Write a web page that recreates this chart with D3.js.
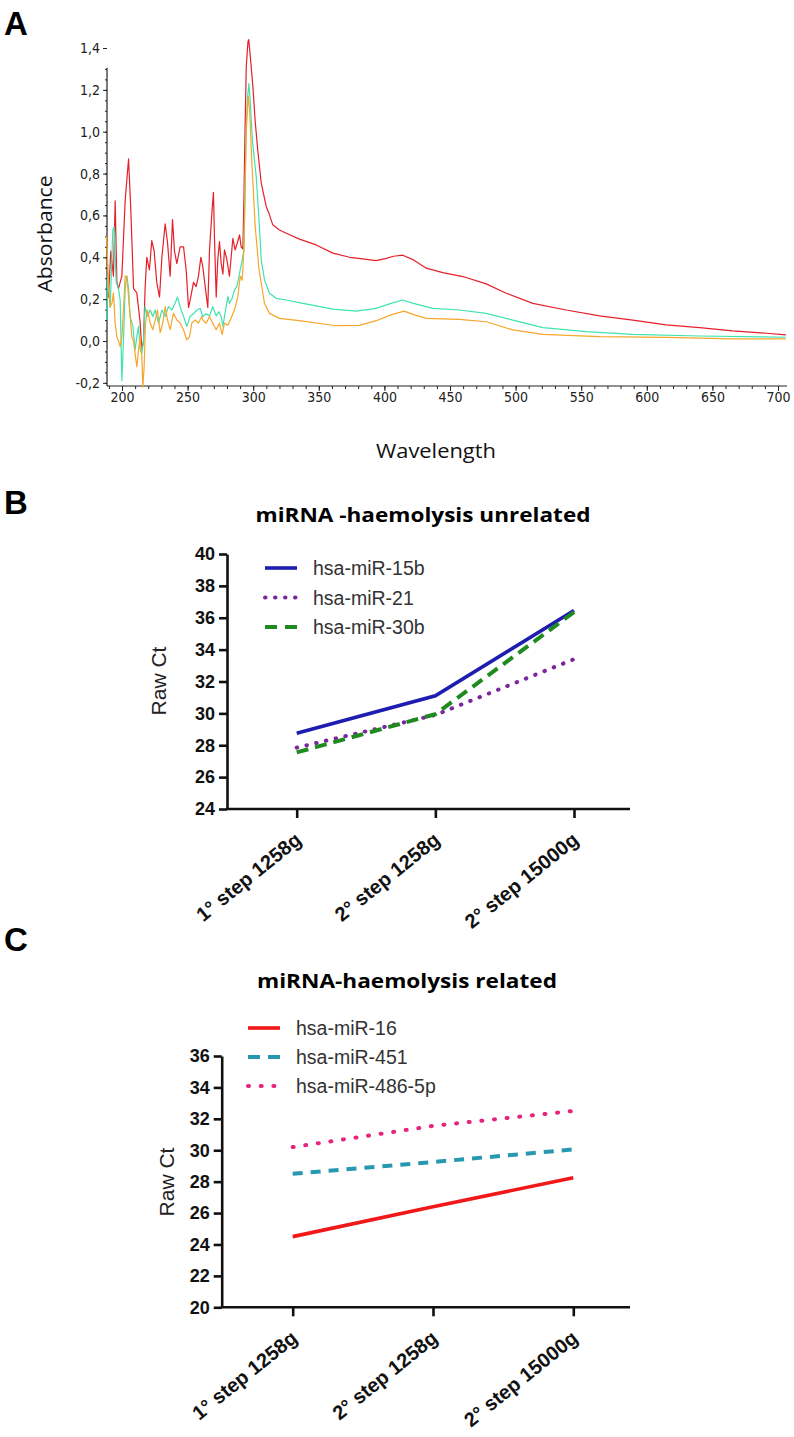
<!DOCTYPE html>
<html>
<head>
<meta charset="utf-8">
<script src="https://cdn.jsdelivr.net/npm/d3@7"></script>
<style>
  body { margin: 0; background: #fff; }
</style>
</head>
<body>
<script>
// ---- panel A : absorbance spectra [wavelength, absorbance] ----
const redSpectrum = [[188.5,0.27],[189.7,0.21],[191.5,0.43],[193.5,0.31],[194.8,0.67],[196.1,0.28],[197.3,0.25],[199.9,0.31],[202.4,0.67],[205.0,0.87],[206.7,0.63],[208.8,0.25],[211.3,0.23],[213.8,0.09],[215.1,-0.04],[216.4,0.0],[217.6,0.25],[218.9,0.40],[220.9,0.34],[222.7,0.48],[224.5,0.43],[226.5,0.28],[228.6,0.21],[230.4,0.40],[232.9,0.56],[234.7,0.47],[236.7,0.31],[238.5,0.58],[240.0,0.43],[241.8,0.37],[244.3,0.45],[246.9,0.45],[248.9,0.34],[250.7,0.16],[252.4,0.21],[254.5,0.28],[256.5,0.26],[258.3,0.31],[260.1,0.40],[261.6,0.355],[263.6,0.25],[265.4,0.16],[266.7,0.435],[268.7,0.63],[269.7,0.71],[270.5,0.49],[271.8,0.21],[273.0,0.39],[274.3,0.475],[275.6,0.37],[276.9,0.32],[278.1,0.435],[279.9,0.39],[281.9,0.31],[283.2,0.40],[284.5,0.49],[286.2,0.435],[287.8,0.467],[289.6,0.507],[290.8,0.45],[292.1,0.44],[293.0,0.70],[293.6,0.95],[294.7,1.31],[296.0,1.43],[296.6,1.44],[297.5,1.38],[299.7,1.22],[301.5,1.05],[303.5,0.91],[306.1,0.755],[309.9,0.643],[312.0,0.61],[314.9,0.555],[320.0,0.53],[325.2,0.515],[335.3,0.487],[348,0.459],[360.7,0.42],[373.4,0.40],[383.5,0.392],[393.7,0.384],[401.4,0.395],[407,0.405],[414,0.41],[421.7,0.389],[431.9,0.348],[444.5,0.327],[459.8,0.308],[477.6,0.273],[492.8,0.228],[513.1,0.18],[538.6,0.148],[564,0.12],[589.3,0.10],[614.8,0.077],[640.2,0.064],[665.5,0.048],[691,0.037],[706,0.029]];

const cyanSpectrum = [[188.5,0.10],[189.0,0.31],[191.0,0.16],[193.0,0.53],[194.0,0.545],[195.6,0.28],[197.3,0.25],[198.6,0.196],[199.9,-0.19],[201.1,0.0],[202.4,0.25],[203.7,0.31],[205.0,0.25],[206.2,0.117],[208.3,0.07],[210.0,-0.043],[211.3,0.02],[212.6,0.07],[213.8,-0.04],[215.1,-0.06],[216.4,0.0],[217.6,0.164],[219.4,0.117],[221.5,0.148],[223.5,0.117],[225.3,0.148],[227.8,0.085],[230.4,0.148],[232.9,0.117],[235.4,0.164],[238.0,0.148],[240.5,0.18],[242.3,0.21],[244.3,0.164],[246.9,0.117],[249.4,0.07],[251.9,0.117],[254.5,0.13],[257.0,0.148],[259.6,0.155],[261.6,0.117],[264.2,0.13],[266.7,0.12],[269.2,0.164],[271.8,0.12],[273.8,0.14],[275.6,0.117],[276.9,0.07],[278.9,0.148],[280.7,0.212],[281.9,0.18],[284.0,0.204],[285.7,0.244],[287.5,0.26],[289.6,0.324],[291.6,0.388],[292.9,0.435],[293.8,0.70],[294.4,0.945],[295.5,1.15],[296.7,1.23],[297.7,1.15],[299.5,0.95],[302.3,0.786],[304.3,0.595],[306.1,0.388],[308.6,0.292],[312.4,0.228],[317.5,0.204],[325.2,0.196],[335,0.183],[360.7,0.152],[378.5,0.143],[393.7,0.156],[405,0.18],[414,0.196],[422,0.18],[437,0.156],[457,0.148],[477.6,0.132],[497.9,0.10],[520.8,0.064],[553.8,0.045],[589.3,0.032],[640,0.024],[706,0.018]];

const orangeSpectrum = [[188.3,0.50],[189.7,0.276],[191.0,0.164],[192.3,0.18],[193.5,0.23],[194.8,0.086],[196.1,0.02],[197.3,0.0],[198.6,-0.027],[199.9,0.02],[201.1,0.148],[202.4,0.31],[203.7,0.31],[205.0,0.21],[206.2,0.117],[207.5,0.02],[208.8,0.0],[210.0,-0.06],[211.3,-0.123],[212.6,-0.043],[213.8,0.02],[215.1,-0.075],[215.9,-0.22],[216.9,-0.12],[217.9,0.086],[219.4,0.148],[221.5,0.086],[223.5,0.054],[225.3,0.10],[227.0,0.148],[229.1,0.04],[231.1,0.086],[232.9,0.164],[234.7,0.10],[236.7,0.054],[239.2,0.133],[241.8,0.10],[244.3,0.086],[246.9,0.054],[249.4,0.005],[251.4,0.02],[253.2,0.086],[255.8,0.10],[258.3,0.086],[260.8,0.117],[261.6,0.10],[264.2,0.085],[266.7,0.117],[269.2,0.085],[271.8,0.054],[274.3,0.085],[276.3,0.03],[278.1,0.085],[280.7,0.075],[283.2,0.11],[285.7,0.148],[288.3,0.212],[290.1,0.31],[291.6,0.29],[292.9,0.435],[293.8,0.75],[295.0,1.05],[296.2,1.17],[297.3,1.10],[299.0,0.85],[301.5,0.55],[304.3,0.35],[306.1,0.276],[308.6,0.18],[312.4,0.132],[320,0.108],[335,0.097],[363,0.073],[381,0.075],[393.7,0.097],[405,0.125],[415,0.143],[423,0.125],[432,0.108],[457,0.103],[477.6,0.092],[497.9,0.053],[520.8,0.032],[564,0.021],[615,0.017],[665,0.01],[706,0.01]];

const xTicksA = [200, 250, 300, 350, 400, 450, 500, 550, 600, 650, 700];
const yTicksA = [-0.2, 0, 0.2, 0.4, 0.6, 0.8, 1.0, 1.2, 1.4];

// ---- panels B and C : raw Ct ----
const steps = ["1° step 1258g", "2° step 1258g", "2° step 15000g"];

const unrelatedNames = ["hsa-miR-15b", "hsa-miR-21", "hsa-miR-30b"];
const miR15b = [28.75, 31.1, 36.45];
const miR21 = [27.85, 29.9, 33.4];
const miR30b = [27.55, 29.95, 36.35];
const ctTicksB = [24, 26, 28, 30, 32, 34, 36, 38, 40];

const relatedNames = ["hsa-miR-16", "hsa-miR-451", "hsa-miR-486-5p"];
const miR16 = [24.5, 26.4, 28.25];
const miR451 = [28.5, 29.25, 30.05];
const miR486 = [30.2, 31.55, 32.5];
const ctTicksC = [20, 22, 24, 26, 28, 30, 32, 34, 36];

const svg = d3.select("body").append("svg")
    .attr("width", 794)
    .attr("height", 1437)
    .style("font-family", "'Liberation Sans', Arial, sans-serif");

const narrow = "'Liberation Sans Narrow','DejaVu Sans Condensed',sans-serif";
const calibri = "'Open Sans', 'Liberation Sans', sans-serif";
const comma = d => d3.format(".1f")(d).replace(".", ",").replace("\u2212", "-");

// panel letters
[["A", 35], ["B", 514], ["C", 951]].forEach(([t, y]) => {
    svg.append("text").attr("x", 4).attr("y", y)
        .attr("font-size", 33).attr("font-weight", "bold").text(t);
});

// ================= panel A =================
const xA = d3.scaleLinear().domain([200, 700]).range([122, 778]);
const yA = d3.scaleLinear().domain([0, 1.4]).range([341, 48]);
const gA = svg.append("g");

function styleSpecAxis(g) {
    g.select(".domain").remove();
    g.selectAll(".tick line").attr("stroke", "#222");
    g.selectAll("text")
        .attr("font-family", narrow)
        .attr("font-stretch", "condensed")
        .attr("font-size", 14)
        .attr("fill", "#222");
}

gA.append("g").attr("transform", "translate(0,386)")
    .call(d3.axisBottom(xA).tickValues(d3.range(190, 701, 10)).tickSize(3).tickFormat(""))
    .call(styleSpecAxis);
gA.append("g").attr("transform", "translate(0,386)")
    .call(d3.axisBottom(xA).tickValues(xTicksA).tickSize(5).tickPadding(1).tickFormat(d3.format("d")))
    .call(styleSpecAxis);
gA.append("g").attr("transform", "translate(107,0)")
    .call(d3.axisLeft(yA).tickValues(d3.range(-0.2, 1.31, 0.05)).tickSize(2).tickFormat(""))
    .call(styleSpecAxis);
gA.append("g").attr("transform", "translate(107,0)")
    .call(d3.axisLeft(yA).tickValues(yTicksA).tickSize(4).tickPadding(3).tickFormat(comma))
    .call(styleSpecAxis);

gA.append("line").attr("x1", 107).attr("x2", 787).attr("y1", 386).attr("y2", 386)
    .attr("stroke", "#222").attr("stroke-width", 1.2);
gA.append("line").attr("x1", 107).attr("x2", 107).attr("y1", 386).attr("y2", yA(1.306))
    .attr("stroke", "#222").attr("stroke-width", 1.2);

const specLine = d3.line().x(d => xA(d[0])).y(d => yA(d[1]));
[[redSpectrum, "#e5202a"], [cyanSpectrum, "#3fe3b0"], [orangeSpectrum, "#f6a62a"]].forEach(([s, c]) => {
    gA.append("path").datum(s)
        .attr("d", specLine)
        .attr("fill", "none")
        .attr("stroke", c)
        .attr("stroke-width", 1.2)
        .attr("stroke-linejoin", "round");
});

gA.append("text").attr("x", 436).attr("y", 458).attr("text-anchor", "middle")
    .attr("font-family", calibri).attr("font-size", 20).attr("fill", "#111")
    .attr("textLength", 120).attr("lengthAdjust", "spacingAndGlyphs")
    .text("Wavelength");
gA.append("text").attr("transform", "translate(52,234) rotate(-90)").attr("text-anchor", "middle")
    .attr("font-family", calibri).attr("font-size", 20).attr("fill", "#111")
    .attr("textLength", 117).attr("lengthAdjust", "spacingAndGlyphs")
    .text("Absorbance");

// ================= panels B, C =================
function ctPanel(opt) {
    const g = svg.append("g");
    const x = d3.scalePoint().domain(steps).range(opt.xr);
    const y = d3.scaleLinear().domain(opt.yd).range(opt.yr);

    // title
    g.append("text").attr("x", opt.title[1]).attr("y", opt.title[2])
        .attr("text-anchor", "middle")
        .attr("font-family", calibri).attr("font-weight", "bold").attr("font-size", 20)
        .attr("textLength", opt.title[3]).attr("lengthAdjust", "spacingAndGlyphs")
        .text(opt.title[0]);

    // y axis
    const ya = g.append("g").attr("transform", `translate(${opt.ax},0)`)
        .call(d3.axisLeft(y).tickValues(opt.ticks).tickSize(8).tickSizeOuter(0).tickPadding(4));
    ya.select(".domain").attr("stroke", "#111").attr("stroke-width", 2.6);
    ya.selectAll(".tick line").attr("stroke", "#111").attr("stroke-width", 2.6);
    ya.selectAll("text").attr("font-size", 18).attr("font-weight", "bold").attr("fill", "#111");

    // x axis
    const base = opt.yr[0];
    const xa = g.append("g").attr("transform", `translate(0,${base})`)
        .call(d3.axisBottom(x).tickSize(9).tickSizeOuter(0).tickFormat(""));
    xa.select(".domain").remove();
    xa.selectAll(".tick line").attr("stroke", "#111").attr("stroke-width", 2.6);
    g.append("line").attr("x1", opt.ax - 1).attr("x2", 630).attr("y1", base).attr("y2", base)
        .attr("stroke", "#111").attr("stroke-width", 2.6);
    g.selectAll(".xlab").data(steps).enter().append("text")
        .attr("class", "xlab")
        .attr("transform", d => `translate(${x(d) + 6},${base + 33}) rotate(-39)`)
        .attr("text-anchor", "end")
        .attr("font-size", 20).attr("font-weight", "bold").attr("fill", "#111")
        .text(d => d);

    // y label
    g.append("text").attr("transform", `translate(${opt.ylab[0]},${opt.ylab[1]}) rotate(-90)`)
        .attr("text-anchor", "middle").attr("font-size", 21).attr("fill", "#222")
        .text("Raw Ct");

    // series
    const line = d3.line().x((d, i) => x(steps[i])).y(d => y(d));
    opt.series.forEach((s, i) => {
        g.append("path").datum(s.values)
            .attr("d", line)
            .attr("fill", "none")
            .attr("stroke", s.color)
            .attr("stroke-width", s.width)
            .attr("stroke-dasharray", s.dash)
            .attr("stroke-linecap", s.cap);
        const ly = opt.legend[1] + i * opt.legend[2];
        g.append("line")
            .attr("x1", opt.legend[0]).attr("x2", opt.legend[0] + 32)
            .attr("y1", ly).attr("y2", ly)
            .attr("stroke", s.color)
            .attr("stroke-width", s.width)
            .attr("stroke-dasharray", s.legendDash || s.dash)
            .attr("stroke-linecap", s.cap);
        g.append("text").attr("x", opt.legend[0] + 48).attr("y", ly)
            .attr("dy", "0.36em").attr("font-size", 19.5).attr("fill", "#333")
            .text(s.name);
    });
}

ctPanel({
    title: ["miRNA -haemolysis unrelated", 423, 522, 335],
    xr: [296.7, 574], yd: [24, 40], yr: [809, 554], ax: 227,
    ticks: ctTicksB, ylab: [166, 681],
    legend: [265, 568, 29.5],
    series: [
        { name: unrelatedNames[0], values: miR15b, color: "#1d1db0", width: 3.6, dash: null, cap: "butt" },
        { name: unrelatedNames[1], values: miR21, color: "#7b259f", width: 4, dash: "0.5,9.5", cap: "round" },
        { name: unrelatedNames[2], values: miR30b, color: "#1f8a1f", width: 4, dash: "12,7", cap: "butt", legendDash: "12,8" }
    ]
});

ctPanel({
    title: ["miRNA-haemolysis related", 407, 988, 300],
    xr: [292.7, 573.3], yd: [20, 36], yr: [1307.3, 1056], ax: 221.7,
    ticks: ctTicksC, ylab: [174, 1182],
    legend: [248, 1028, 29],
    series: [
        { name: relatedNames[0], values: miR16, color: "#f01818", width: 3.6, dash: null, cap: "butt" },
        { name: relatedNames[1], values: miR451, color: "#2798b0", width: 4, dash: "10,8", cap: "butt", legendDash: "12,8" },
        { name: relatedNames[2], values: miR486, color: "#e8237b", width: 4, dash: "1,11.7", cap: "round" }
    ]
});
</script>
</body>
</html>
